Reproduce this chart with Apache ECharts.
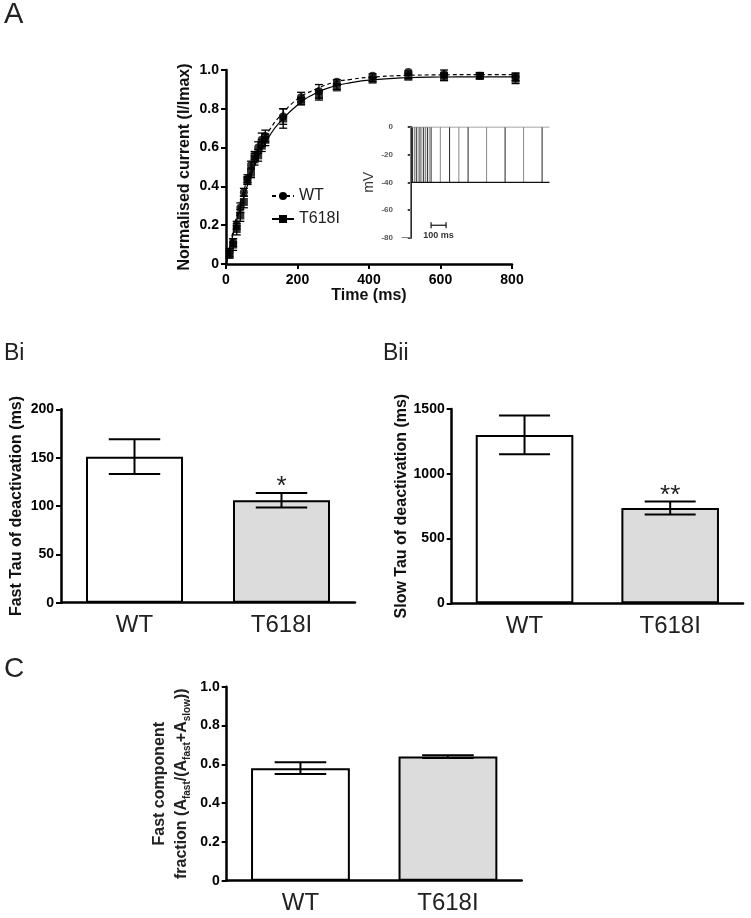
<!DOCTYPE html>
<html><head><meta charset="utf-8">
<script src="https://cdn.jsdelivr.net/npm/echarts/dist/echarts.min.js"></script>
<style>html,body{margin:0;padding:0;background:#fff}#c{width:751px;height:918px}</style>
</head><body><div id="c"></div>
<script>
// ---------- Panel A data ----------
const timeMs = [10,20,30,40,50,60,70,80,90,100,110,160,210,260,310,410,510,610,710,810];
const wtMean = [0.06,0.11,0.20,0.29,0.37,0.44,0.51,0.56,0.60,0.64,0.66,0.76,0.86,0.89,0.94,0.97,0.99,0.98,0.97,0.965];
const wtErr  = [0.02,0.02,0.02,0.025,0.02,0.02,0.02,0.02,0.03,0.035,0.03,0.04,0.025,0.035,0.01,0.01,0.005,0.02,0.015,0.02];
const mutMean = [0.05,0.10,0.18,0.25,0.32,0.43,0.47,0.54,0.56,0.61,0.64,0.75,0.84,0.87,0.91,0.95,0.965,0.965,0.97,0.955];
const mutErr  = [0.02,0.03,0.03,0.03,0.03,0.02,0.025,0.03,0.03,0.03,0.03,0.05,0.02,0.025,0.01,0.01,0.01,0.02,0.015,0.025];
const fitTimeMs = [0,25,50,75,100,125,150,200,250,300,350,400,500,600,700,810];
const wtFit  = [0,0.21,0.38,0.51,0.62,0.70,0.76,0.85,0.90,0.935,0.952,0.962,0.972,0.975,0.976,0.976];
const mutFit = [0,0.19,0.35,0.48,0.59,0.67,0.73,0.82,0.88,0.915,0.935,0.948,0.960,0.964,0.965,0.965];
const xTicksA = [0,200,400,600,800];
const yTicksA = [0,0.2,0.4,0.6,0.8,1.0];

// ---------- Inset (voltage protocol) ----------
const insetStepEnds = [10,20,30,40,50,60,70,80,90,100,110,160,210,260,310,410,510,610,710];
const insetHoldStart = -50, insetEnd = 750;
const holdMv = -80, testMv = 0, tailMv = -40;
const insetMvTicks = [0,-20,-40,-60,-80];

// ---------- Bar panels ----------
const groups = ['WT','T618I'];
const fastTau = [151, 106];   const fastTauErr = [18, 7.5];
const slowTau = [1300, 735];  const slowTauErr = [150, 50];
const fastFrac = [0.58, 0.64]; const fastFracErr = [0.03, 0.007];
const sigFast = ['', '*'];
const sigSlow = ['', '**'];
const sigFrac = ['', ''];

const FONT = "'Liberation Sans', Arial, sans-serif";
const barFills = ['#ffffff', '#dcdcdc'];

function errRender(capHalf, lw) {
  return function (params, api) {
    const x = api.value(0), lo = api.value(1), hi = api.value(2);
    const p1 = api.coord([x, lo]), p2 = api.coord([x, hi]);
    const st = {stroke:'#000', lineWidth: lw};
    return {type:'group', children:[
      {type:'line', shape:{x1:p1[0],y1:p1[1],x2:p2[0],y2:p2[1]}, style:st},
      {type:'line', shape:{x1:p1[0]-capHalf,y1:p1[1],x2:p1[0]+capHalf,y2:p1[1]}, style:st},
      {type:'line', shape:{x1:p2[0]-capHalf,y1:p2[1],x2:p2[0]+capHalf,y2:p2[1]}, style:st}
    ]};
  };
}
function barErrRender(sig) {
  return function (params, api) {
    const i = api.value(0), lo = api.value(1), hi = api.value(2);
    const p1 = api.coord([i, lo]), p2 = api.coord([i, hi]);
    const ch = api.size([1, 0])[0] * 0.175;
    const st = {stroke:'#000', lineWidth: 2};
    const ch2 = [
      {type:'line', shape:{x1:p1[0],y1:p1[1],x2:p2[0],y2:p2[1]}, style:st},
      {type:'line', shape:{x1:p1[0]-ch,y1:p1[1],x2:p1[0]+ch,y2:p1[1]}, style:st},
      {type:'line', shape:{x1:p2[0]-ch,y1:p2[1],x2:p2[0]+ch,y2:p2[1]}, style:st}
    ];
    if (sig[params.dataIndex]) {
      ch2.push({type:'text', style:{text: sig[params.dataIndex], x:p2[0], y:p2[1]+7,
        textAlign:'center', textVerticalAlign:'bottom', font:'26px ' + FONT, fill:'#222'}});
    }
    return {type:'group', children: ch2};
  };
}

const tickLbl = {color:'#000', fontFamily:FONT, fontWeight:'bold', fontSize:14};
const axLine = {show:true, onZero:false, lineStyle:{color:'#000', width:2.5}};
const axTick = {show:true, inside:false, length:5, lineStyle:{color:'#000', width:2}};
const nameStyle = {color:'#111', fontFamily:FONT, fontWeight:'bold', fontSize:16};

const plain = v => String(v);
const dec1 = v => v === 0 ? '0' : v.toFixed(1);

function valueY(grid, min, max, interval, name, gap, fmt) {
  return {type:'value', gridIndex:grid, min, max, interval,
    axisLine:axLine, axisTick:axTick, splitLine:{show:false},
    axisLabel:Object.assign({margin:7, formatter: fmt || plain}, tickLbl),
    name, nameLocation:'middle', nameGap:gap, nameTextStyle:nameStyle};
}
function catX(grid) {
  return {type:'category', gridIndex:grid, data:groups,
    axisLine:axLine, axisTick:{show:false},
    axisLabel:{color:'#222', fontFamily:FONT, fontSize:24, margin:11}};
}

const option = {
  animation:false,
  backgroundColor:'#fff',
  graphic:[
    {type:'text', left:4, top:0, style:{text:'A', font:'29px ' + FONT, fill:'#222'}},
    {type:'text', left:4, top:342, style:{text:'Bi', font:'23px ' + FONT, fill:'#222'}},
    {type:'text', left:383, top:342, style:{text:'Bii', font:'23px ' + FONT, fill:'#222'}},
    {type:'text', left:4, top:655, style:{text:'C', font:'28px ' + FONT, fill:'#222'}}
  ],
  legend:{
    data:['WT','T618I'], orient:'vertical', left:266, top:183,
    itemWidth:22, itemHeight:10, itemGap:7,
    textStyle:{color:'#222', fontFamily:FONT, fontSize:16}
  },
  grid:[
    {left:226, top:70, width:286, height:194},
    {left:395, top:127, width:154.5, height:110.7},
    {left:61, top:409.3, width:294, height:193.4},
    {left:451.7, top:409, width:291.3, height:194.3},
    {left:226.7, top:686.7, width:295, height:194}
  ],
  xAxis:[
    {type:'value', gridIndex:0, min:xTicksA[0], max:xTicksA[xTicksA.length-1], interval:xTicksA[1]-xTicksA[0],
      axisLine:axLine, axisTick:axTick, splitLine:{show:false},
      axisLabel:Object.assign({margin:9}, tickLbl),
      name:'Time (ms)', nameLocation:'middle', nameGap:23, nameTextStyle:nameStyle},
    {type:'value', gridIndex:1, min:-85, max:insetEnd, show:false},
    catX(2), catX(3), catX(4)
  ],
  yAxis:[
    valueY(0, yTicksA[0], yTicksA[yTicksA.length-1], 0.2, 'Normalised current (I/Imax)', 33, dec1),
    {type:'value', gridIndex:1, min:insetMvTicks[insetMvTicks.length-1], max:insetMvTicks[0], interval:20,
      axisLine:{show:true, lineStyle:{color:'#000', width:2}},
      axisTick:{show:true, length:3, lineStyle:{color:'#000', width:1.5}},
      splitLine:{show:false},
      axisLabel:{color:'#555', fontFamily:FONT, fontWeight:'bold', fontSize:8, margin:2},
      name:'mV', nameLocation:'middle', nameGap:19,
      nameTextStyle:{color:'#333', fontFamily:FONT, fontSize:14}},
    valueY(2, 0, 200, 50, 'Fast Tau of deactivation (ms)', 36),
    valueY(3, 0, 1500, 500, 'Slow Tau of deactivation (ms)', 39),
    Object.assign(valueY(4, 0, 1, 0.2, '{t|Fast component}\n{t|fraction (A}{s|fast}{t|/(A}{s|fast}{t|+A}{s|slow}{t|))}', 34, dec1), {
      nameTextStyle:{rich:{
        t:{fontFamily:FONT, fontWeight:'bold', fontSize:16, color:'#222', lineHeight:22},
        s:{fontFamily:FONT, fontWeight:'bold', fontSize:10, color:'#222', lineHeight:10, verticalAlign:'bottom'}
      }}
    })
  ],
  series:[
    // Panel A fits
    {name:'WT', type:'line', xAxisIndex:0, yAxisIndex:0, smooth:true, showSymbol:false,
      symbol:'circle', symbolSize:8, clip:false, color:'#000',
      lineStyle:{color:'#000', width:1.2, type:[4,3]},
      data: fitTimeMs.map((t,i)=>[t, wtFit[i]])},
    {name:'T618I', type:'line', xAxisIndex:0, yAxisIndex:0, smooth:true, showSymbol:false,
      symbol:'rect', symbolSize:8, clip:false, color:'#000',
      lineStyle:{color:'#000', width:1.2},
      data: fitTimeMs.map((t,i)=>[t, mutFit[i]])},
    {name:'wtErr', type:'custom', xAxisIndex:0, yAxisIndex:0, clip:false, renderItem: errRender(4,1.3),
      data: timeMs.map((t,i)=>[t, wtMean[i]-wtErr[i], wtMean[i]+wtErr[i]])},
    {name:'mutErr', type:'custom', xAxisIndex:0, yAxisIndex:0, clip:false, renderItem: errRender(4,1.3),
      data: timeMs.map((t,i)=>[t, mutMean[i]-mutErr[i], mutMean[i]+mutErr[i]])},
    {name:'wtPts', type:'scatter', xAxisIndex:0, yAxisIndex:0, clip:false, symbol:'circle', symbolSize:8,
      itemStyle:{color:'#000'}, data: timeMs.map((t,i)=>[t, wtMean[i]])},
    {name:'mutPts', type:'scatter', xAxisIndex:0, yAxisIndex:0, clip:false, symbol:'rect', symbolSize:8,
      itemStyle:{color:'#000'}, data: timeMs.map((t,i)=>[t, mutMean[i]])},
    // Inset protocol
    {name:'hold', type:'line', xAxisIndex:1, yAxisIndex:1, showSymbol:false, symbol:'none',
      lineStyle:{color:'#888', width:1.2},
      data:[[insetHoldStart, holdMv],[0, holdMv],[0, testMv],[insetEnd, testMv]]},
    {name:'tail', type:'line', xAxisIndex:1, yAxisIndex:1, showSymbol:false, symbol:'none',
      lineStyle:{color:'#111', width:1.2},
      data:[[0, tailMv],[insetEnd, tailMv]]},
    {name:'steps', type:'custom', xAxisIndex:1, yAxisIndex:1,
      renderItem:(params, api)=>{
        const t = api.value(0);
        const a = api.coord([t, testMv]), b = api.coord([t, tailMv]);
        return {type:'line', shape:{x1:a[0],y1:a[1],x2:b[0],y2:b[1]},
          style:{stroke: params.dataIndex % 2 ? '#888' : '#222', lineWidth:1}};
      },
      data: insetStepEnds.map(t=>[t])},
    {name:'scalebar', type:'custom', xAxisIndex:1, yAxisIndex:1,
      renderItem:(params, api)=>{
        const a = api.coord([110, -71]), b = api.coord([191, -71]);
        const st = {stroke:'#111', lineWidth:1.2};
        return {type:'group', children:[
          {type:'line', shape:{x1:a[0],y1:a[1],x2:b[0],y2:b[1]}, style:st},
          {type:'line', shape:{x1:a[0],y1:a[1]-3,x2:a[0],y2:a[1]+3}, style:st},
          {type:'line', shape:{x1:b[0],y1:b[1]-3,x2:b[0],y2:b[1]+3}, style:st},
          {type:'text', style:{text:'100 ms', x:(a[0]+b[0])/2, y:a[1]+10, textAlign:'center',
            textVerticalAlign:'middle', font:'bold 9px ' + FONT, fill:'#333'}}
        ]};
      },
      data:[[0]]},
    // Bi
    {type:'bar', xAxisIndex:2, yAxisIndex:2, barWidth:'66%',
      data: fastTau.map((v,i)=>({value:v, itemStyle:{color:barFills[i], borderColor:'#000', borderWidth:2}}))},
    {type:'custom', xAxisIndex:2, yAxisIndex:2, renderItem: barErrRender(sigFast), z:5,
      data: fastTau.map((v,i)=>[i, v-fastTauErr[i], v+fastTauErr[i]])},
    // Bii
    {type:'bar', xAxisIndex:3, yAxisIndex:3, barWidth:'67%',
      data: slowTau.map((v,i)=>({value:v, itemStyle:{color:barFills[i], borderColor:'#000', borderWidth:2}}))},
    {type:'custom', xAxisIndex:3, yAxisIndex:3, renderItem: barErrRender(sigSlow), z:5,
      data: slowTau.map((v,i)=>[i, v-slowTauErr[i], v+slowTauErr[i]])},
    // C
    {type:'bar', xAxisIndex:4, yAxisIndex:4, barWidth:'67%',
      data: fastFrac.map((v,i)=>({value:v, itemStyle:{color:barFills[i], borderColor:'#000', borderWidth:2}}))},
    {type:'custom', xAxisIndex:4, yAxisIndex:4, renderItem: barErrRender(sigFrac), z:5,
      data: fastFrac.map((v,i)=>[i, v-fastFracErr[i], v+fastFracErr[i]])}
  ]
};
const chart = echarts.init(document.getElementById('c'), null, {renderer:'canvas'});
chart.setOption(option);
</script></body></html>
